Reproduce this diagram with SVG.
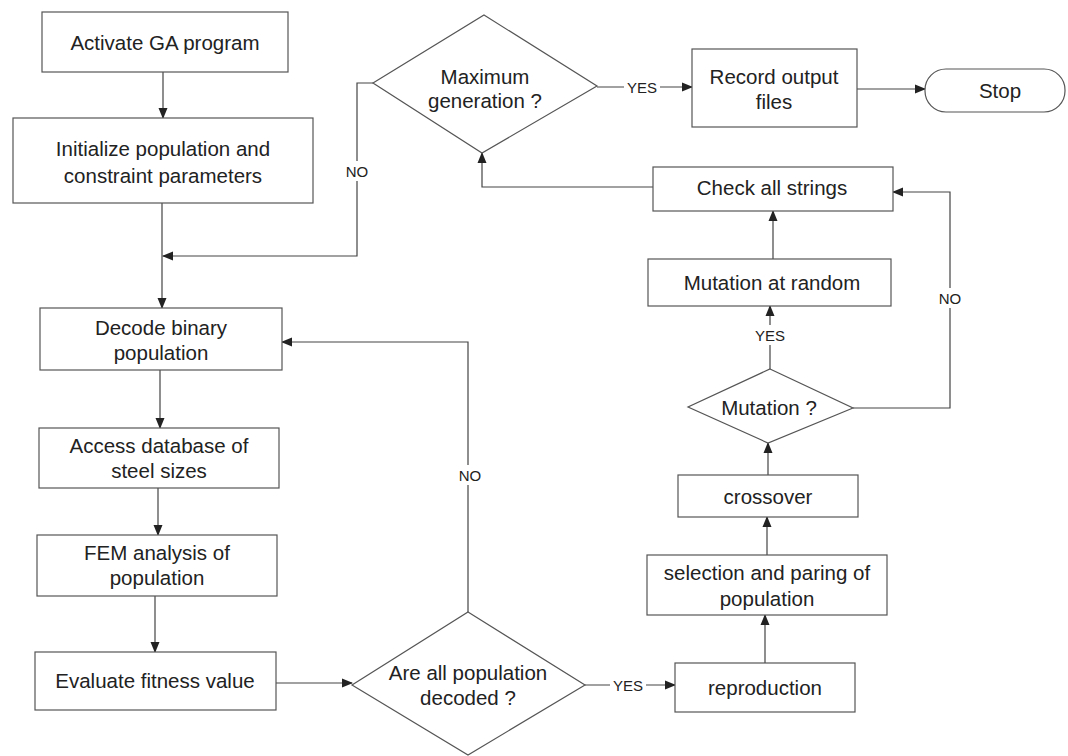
<svg xmlns="http://www.w3.org/2000/svg" width="1068" height="756" viewBox="0 0 1068 756">
  <defs>
    <marker id="arrow" markerUnits="userSpaceOnUse" markerWidth="11" markerHeight="10" refX="10" refY="5" orient="auto">
      <path d="M0,0.5 L11,5 L0,9.5 Z" fill="#222"/>
    </marker>
    <style>
      .box { fill: #fff; stroke: #555; stroke-width: 1.2; }
      .t { font-family: "Liberation Sans", Arial, sans-serif; font-size: 20.5px; fill: #222; text-anchor: middle; dominant-baseline: central; }
      .lbl { font-family: "Liberation Sans", Arial, sans-serif; font-size: 15px; fill: #222; text-anchor: middle; dominant-baseline: central; }
      .gap { fill: #fff; stroke: none; }
      .edge { fill: none; stroke: #444; stroke-width: 1.2; }
    </style>
  </defs>
  <rect width="1068" height="756" fill="#fff"/>

  <!-- connectors -->
  <g id="connectors">
    <path class="edge" d="M163,72 V118" marker-end="url(#arrow)"/>
    <path class="edge" d="M162,203 V308" marker-end="url(#arrow)"/>
    <path class="edge" d="M373,83 H357 V256 H163" marker-end="url(#arrow)"/>
    <path class="edge" d="M597,87 H692" marker-end="url(#arrow)"/>
    <path class="edge" d="M857,89 H925" marker-end="url(#arrow)"/>
    <path class="edge" d="M653,187 H482 V153" marker-end="url(#arrow)"/>
    <path class="edge" d="M773,259 V211" marker-end="url(#arrow)"/>
    <path class="edge" d="M770,369 V306" marker-end="url(#arrow)"/>
    <path class="edge" d="M853,408 H950 V192 H893" marker-end="url(#arrow)"/>
    <path class="edge" d="M768,475 V443" marker-end="url(#arrow)"/>
    <path class="edge" d="M767,555 V517" marker-end="url(#arrow)"/>
    <path class="edge" d="M765,663 V615" marker-end="url(#arrow)"/>
    <path class="edge" d="M585,685 H675" marker-end="url(#arrow)"/>
    <path class="edge" d="M276,683 H352" marker-end="url(#arrow)"/>
    <path class="edge" d="M468,612 V342 H282" marker-end="url(#arrow)"/>
    <path class="edge" d="M160,370 V428" marker-end="url(#arrow)"/>
    <path class="edge" d="M158,488 V535" marker-end="url(#arrow)"/>
    <path class="edge" d="M155,596 V652" marker-end="url(#arrow)"/>

    <!-- branch labels -->
    <rect class="gap" x="343" y="161" width="28" height="20"/>
    <text class="lbl" x="357" y="171">NO</text>
    <rect class="gap" x="624" y="78" width="36" height="18"/>
    <text class="lbl" x="642" y="87">YES</text>
    <rect class="gap" x="754" y="325" width="32" height="20"/>
    <text class="lbl" x="770" y="335">YES</text>
    <rect class="gap" x="936" y="288" width="28" height="20"/>
    <text class="lbl" x="950" y="298">NO</text>
    <rect class="gap" x="610" y="676" width="36" height="18"/>
    <text class="lbl" x="628" y="685">YES</text>
    <rect class="gap" x="456" y="465" width="28" height="20"/>
    <text class="lbl" x="470" y="475">NO</text>
  </g>

  <g id="activate">
    <rect class="box" x="42" y="12" width="246" height="60"/>
    <text class="t" x="165" y="42">Activate GA program</text>
  </g>
  <g id="initialize">
    <rect class="box" x="13" y="118" width="300" height="85"/>
    <text class="t" x="163" y="148">Initialize population and</text>
    <text class="t" x="163" y="175">constraint parameters</text>
  </g>
  <g id="decode">
    <rect class="box" x="40" y="308" width="242" height="62"/>
    <text class="t" x="161" y="327">Decode binary</text>
    <text class="t" x="161" y="352">population</text>
  </g>
  <g id="access">
    <rect class="box" x="39" y="428" width="240" height="60"/>
    <text class="t" x="159" y="445">Access database of</text>
    <text class="t" x="159" y="470">steel sizes</text>
  </g>
  <g id="fem">
    <rect class="box" x="37" y="535" width="240" height="61"/>
    <text class="t" x="157" y="552">FEM analysis of</text>
    <text class="t" x="157" y="577">population</text>
  </g>
  <g id="evaluate">
    <rect class="box" x="35" y="652" width="241" height="58"/>
    <text class="t" x="155" y="680">Evaluate fitness value</text>
  </g>
  <g id="all-decoded">
    <polygon class="box" points="468,612 585,685 468,755 352,685"/>
    <text class="t" x="468" y="672">Are all population</text>
    <text class="t" x="468" y="697">decoded ?</text>
  </g>
  <g id="reproduction">
    <rect class="box" x="675" y="663" width="180" height="49"/>
    <text class="t" x="765" y="687">reproduction</text>
  </g>
  <g id="selection">
    <rect class="box" x="647" y="555" width="240" height="60"/>
    <text class="t" x="767" y="572">selection and paring of</text>
    <text class="t" x="767" y="598">population</text>
  </g>
  <g id="crossover">
    <rect class="box" x="678" y="475" width="180" height="42"/>
    <text class="t" x="768" y="496">crossover</text>
  </g>
  <g id="mutation-check">
    <polygon class="box" points="770,369 853,408 768,443 688,407"/>
    <text class="t" x="769" y="407">Mutation ?</text>
  </g>
  <g id="mutation">
    <rect class="box" x="648" y="259" width="243" height="47"/>
    <text class="t" x="772" y="282">Mutation at random</text>
  </g>
  <g id="check-strings">
    <rect class="box" x="653" y="167" width="240" height="44"/>
    <text class="t" x="772" y="187">Check all strings</text>
  </g>
  <g id="max-generation">
    <polygon class="box" points="484,15 597,86 482,153 373,83"/>
    <text class="t" x="485" y="76">Maximum</text>
    <text class="t" x="485" y="100">generation ?</text>
  </g>
  <g id="record">
    <rect class="box" x="692" y="49" width="165" height="78"/>
    <text class="t" x="774" y="76">Record output</text>
    <text class="t" x="774" y="101">files</text>
  </g>
  <g id="stop">
    <rect class="box" x="925" y="69" width="140" height="43" rx="21" ry="21"/>
    <text class="t" x="1000" y="90">Stop</text>
  </g>
</svg>
